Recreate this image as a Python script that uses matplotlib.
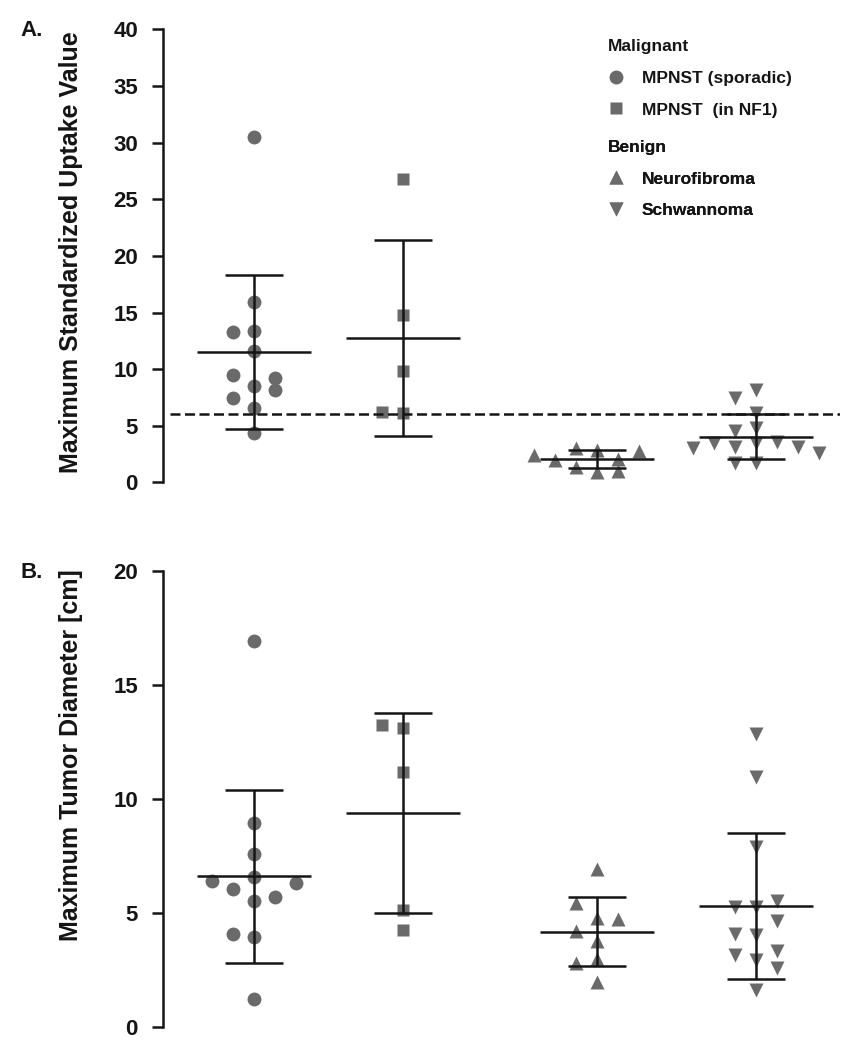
import matplotlib.pyplot as plt
import numpy as np
from matplotlib.lines import Line2D

plt.rcParams["font.family"] = ["Liberation Sans", "DejaVu Sans"]
plt.rcParams["font.weight"] = "bold"

GREY = "#6a6a6a"
INK = "#151515"

# groups (left to right) and their symbols
group_labels = ["MPNST (sporadic)", "MPNST  (in NF1)", "Neurofibroma", "Schwannoma"]
group_markers = ["o", "s", "^", "v"]
group_x = [1.0, 2.0, 3.3, 4.37]

# A. maximum SUV per lesion
suv_sporadic = [30.5, 15.9, 11.6, 8.5, 6.55, 4.4, 13.4, 13.25, 9.5, 9.25, 7.5, 8.15]
suv_nf1 = [26.8, 14.8, 9.8, 6.1, 6.2]
suv_neurofibroma = [2.9, 0.9, 3.0, 1.4, 1.0, 2.1, 2.0, 2.8, 2.4]
suv_schwannoma = [8.15, 6.1, 3.5, 1.7, 7.45, 4.5, 4.8, 3.6, 3.45, 3.1, 3.1, 3.0, 2.6, 1.7]
suv_cutoff = 6.0

# B. maximum tumour diameter (cm)
diam_sporadic = [16.9, 8.95, 7.6, 6.6, 5.55, 3.95, 1.25, 6.05, 4.1, 5.7, 6.4, 6.3]
diam_nf1 = [13.1, 11.2, 5.15, 4.25, 13.25]
diam_neurofibroma = [6.95, 4.8, 3.8, 2.0, 4.2, 3.0, 5.45, 4.75, 2.8]
diam_schwannoma = [12.85, 10.95, 7.9, 5.25, 4.05, 2.95, 1.65, 5.25, 4.65, 3.15, 5.55, 4.1, 3.35, 2.6]


def swarm(values, ax, step_px=21.0, gap_px=12.0):
    """Column offsets (data units) so that symbols in a column do not pile up."""
    p0, p1 = ax.transData.transform([(0, 0), (1, 1)])
    sx, sy = p1 - p0
    placed = []
    offsets = []
    for v in values:
        for k in (0, -1, 1, -2, 2, -3, 3):
            if all(kk != k or abs(v - pv) * sy >= gap_px for kk, pv in placed):
                break
        placed.append((k, v))
        offsets.append(k * step_px / sx)
    return np.array(offsets)


def setup_axis(ax, ymax, ystep, ylabel, label_y):
    ax.set_xlim(0.389, 4.933)
    ax.set_ylim(0, ymax)
    ax.set_yticks(np.arange(0, ymax + 1, ystep))
    ax.set_xticks([])
    for side in ("top", "right", "bottom"):
        ax.spines[side].set_visible(False)
    ax.spines["left"].set_linewidth(1.8)
    ax.spines["left"].set_color(INK)
    ax.tick_params(axis="y", length=8, width=1.8, pad=10, labelsize=16, colors=INK)
    ax.set_ylabel(ylabel, fontsize=18, fontweight="bold", color=INK)
    ax.yaxis.set_label_coords(-0.118, label_y)


def draw_groups(ax, series, gap_px):
    for x0, vals, m in zip(group_x, series, group_markers):
        vals = np.asarray(vals, dtype=float)
        ms = 9.0 if m == "s" else 10.0
        ax.plot(x0 + swarm(vals, ax, gap_px=gap_px), vals, linestyle="none", marker=m,
                ms=ms, color=GREY, mec="none", zorder=2, clip_on=False)
        mean, sd = vals.mean(), vals.std(ddof=1)
        ax.hlines(mean, x0 - 0.383, x0 + 0.383, color=INK, lw=1.8, zorder=3)
        ax.hlines([mean - sd, mean + sd], x0 - 0.195, x0 + 0.195, color=INK, lw=1.8, zorder=3)
        ax.vlines(x0, mean - sd, mean + sd, color=INK, lw=1.8, zorder=3)


def legend_block(ax, title, labels, markers, top):
    handles = [Line2D([], [], linestyle="none", marker=m, ms=9 if m == "s" else 10,
                      color=GREY, mec="none") for m in markers]
    leg = ax.legend(handles, labels, title=title, loc="upper left",
                    bbox_to_anchor=(0.657, top), frameon=False,
                    prop=dict(weight="bold", size=12.5),
                    title_fontproperties=dict(weight="bold", size=12.5),
                    alignment="left", handlelength=1.0, handletextpad=0.95,
                    labelspacing=0.95, borderpad=0, borderaxespad=0)
    for t in leg.get_texts():
        t.set_color(INK)
    leg.get_title().set_color(INK)
    ax.add_artist(leg)


fig = plt.figure(figsize=(8.55, 10.5), dpi=100)
ax_a = fig.add_axes([0.1906, 0.5405, 0.7918, 0.4316])
ax_b = fig.add_axes([0.1906, 0.0216, 0.7918, 0.4349])

setup_axis(ax_a, 40, 5, "Maximum Standardized Uptake Value", 0.509)
setup_axis(ax_b, 20, 5, "Maximum Tumor Diameter [cm]", 0.596)

draw_groups(ax_a, [suv_sporadic, suv_nf1, suv_neurofibroma, suv_schwannoma], 12.0)
draw_groups(ax_b, [diam_sporadic, diam_nf1, diam_neurofibroma, diam_schwannoma], 16.0)

ax_a.axhline(suv_cutoff, xmin=0.01, xmax=1.0, color=INK, lw=1.8,
             dashes=(4.0, 1.8), zorder=3)

legend_block(ax_a, "Malignant", group_labels[:2], group_markers[:2], 0.978)
legend_block(ax_a, "Benign", group_labels[2:], group_markers[2:], 0.756)

fig.text(20 / 855, 1 - 30 / 1050, "A.", fontsize=16, fontweight="bold",
         color=INK, ha="left", va="center")
fig.text(20 / 855, 1 - 572 / 1050, "B.", fontsize=16, fontweight="bold",
         color=INK, ha="left", va="center")

fig.savefig("out.png", dpi=100, facecolor="white")
